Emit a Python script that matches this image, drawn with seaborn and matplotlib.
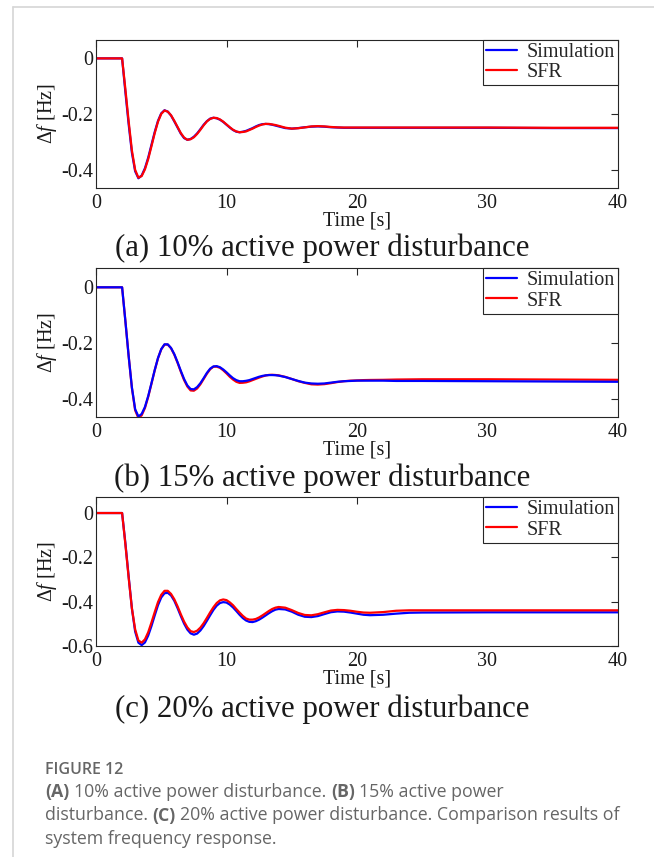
import matplotlib
matplotlib.use("Agg")
import matplotlib.pyplot as plt
import seaborn as sns
import numpy as np
import pandas as pd
from matplotlib.lines import Line2D

# time samples [s]
time_s = [0, 2.0,
          2.25, 2.5, 2.75, 3.0, 3.25, 3.5, 3.75, 4.0,
          4.25, 4.5, 4.75, 5.0, 5.25, 5.5, 5.75, 6.0,
          6.25, 6.5, 6.75, 7.0, 7.25, 7.5, 7.75, 8.0,
          8.25, 8.5, 8.75, 9.0, 9.25, 9.5, 9.75, 10.0,
          10.25, 10.5, 10.75, 11.0, 11.25, 11.5, 11.75, 12.0,
          12.25, 12.5, 12.75, 13.0, 13.25, 13.5, 13.75, 14.0,
          14.5, 15.0, 15.5, 16.0, 16.5, 17.0, 17.5, 18.0,
          18.5, 19.0, 19.5, 20.0, 20.5, 21.0,
          22, 23, 24, 25, 30, 35, 40]

# (a) 10 % disturbance
sim_a = [0, 0,
         -0.120, -0.235, -0.338, -0.405, -0.430, -0.420, -0.394, -0.356,
         -0.310, -0.264, -0.224, -0.197, -0.186, -0.191, -0.205, -0.226,
         -0.248, -0.270, -0.286, -0.292, -0.289, -0.281, -0.269, -0.254,
         -0.238, -0.225, -0.216, -0.213, -0.215, -0.220, -0.228, -0.238,
         -0.248, -0.257, -0.263, -0.265, -0.263, -0.260, -0.255, -0.250,
         -0.244, -0.239, -0.236, -0.235, -0.236, -0.238, -0.241, -0.244,
         -0.250, -0.252, -0.250, -0.247, -0.245, -0.244, -0.245, -0.247,
         -0.248, -0.249, -0.249, -0.249, -0.249, -0.249,
         -0.249, -0.249, -0.249, -0.249, -0.249, -0.250, -0.250]
sfr_a = [0, 0,
         -0.110, -0.225, -0.330, -0.400, -0.428, -0.422, -0.398, -0.361,
         -0.315, -0.268, -0.227, -0.199, -0.187, -0.191, -0.204, -0.224,
         -0.246, -0.268, -0.284, -0.292, -0.290, -0.283, -0.271, -0.256,
         -0.240, -0.226, -0.217, -0.213, -0.214, -0.219, -0.227, -0.237,
         -0.247, -0.256, -0.262, -0.265, -0.264, -0.262, -0.257, -0.252,
         -0.246, -0.241, -0.237, -0.235, -0.235, -0.237, -0.239, -0.242,
         -0.2485, -0.252, -0.2505, -0.2475, -0.244, -0.243, -0.244, -0.246,
         -0.2475, -0.248, -0.248, -0.248, -0.248, -0.248,
         -0.248, -0.248, -0.248, -0.248, -0.248, -0.249, -0.249]

# (b) 15 % disturbance
sim_b = [0, 0,
         -0.120, -0.245, -0.358, -0.436, -0.462, -0.453, -0.428, -0.389,
         -0.343, -0.296, -0.253, -0.221, -0.204, -0.204, -0.217, -0.239,
         -0.268, -0.299, -0.328, -0.351, -0.364, -0.365, -0.357, -0.343,
         -0.325, -0.306, -0.291, -0.283, -0.282, -0.286, -0.294, -0.304,
         -0.315, -0.325, -0.332, -0.336, -0.336, -0.3345, -0.332, -0.328,
         -0.324, -0.320, -0.317, -0.315, -0.314, -0.314, -0.3145, -0.316,
         -0.321, -0.328, -0.335, -0.341, -0.344, -0.345, -0.344, -0.341,
         -0.338, -0.336, -0.335, -0.334, -0.334, -0.334,
         -0.334, -0.335, -0.335, -0.335, -0.336, -0.337, -0.338]
sfr_b = [0, 0,
         -0.120, -0.245, -0.360, -0.440, -0.468, -0.458, -0.432, -0.392,
         -0.345, -0.297, -0.254, -0.222, -0.205, -0.205, -0.218, -0.241,
         -0.270, -0.302, -0.332, -0.355, -0.369, -0.370, -0.362, -0.347,
         -0.328, -0.309, -0.293, -0.284, -0.284, -0.288, -0.297, -0.308,
         -0.320, -0.330, -0.338, -0.342, -0.3415, -0.340, -0.3365, -0.332,
         -0.3275, -0.323, -0.319, -0.3155, -0.3135, -0.313, -0.3137, -0.315,
         -0.3205, -0.328, -0.336, -0.342, -0.347, -0.348, -0.3465, -0.343,
         -0.339, -0.336, -0.334, -0.333, -0.332, -0.3315,
         -0.331, -0.330, -0.3295, -0.329, -0.329, -0.330, -0.331]

# (c) 20 % disturbance
sim_c = [0, 0,
         -0.135, -0.285, -0.430, -0.535, -0.585, -0.596, -0.584, -0.553,
         -0.510, -0.462, -0.416, -0.381, -0.362, -0.360, -0.372, -0.396,
         -0.429, -0.465, -0.499, -0.526, -0.543, -0.549, -0.544, -0.530,
         -0.510, -0.486, -0.461, -0.437, -0.418, -0.406, -0.402, -0.404,
         -0.413, -0.426, -0.442, -0.459, -0.474, -0.485, -0.491, -0.492,
         -0.488, -0.481, -0.472, -0.462, -0.452, -0.443, -0.436, -0.433,
         -0.435, -0.445, -0.459, -0.468, -0.4695, -0.465, -0.456, -0.4475,
         -0.444, -0.445, -0.449, -0.454, -0.459, -0.461,
         -0.459, -0.454, -0.450, -0.449, -0.448, -0.448, -0.448]
sfr_c = [0, 0,
         -0.140, -0.290, -0.430, -0.525, -0.575, -0.585, -0.570, -0.538,
         -0.494, -0.447, -0.402, -0.369, -0.351, -0.351, -0.365, -0.389,
         -0.421, -0.457, -0.490, -0.516, -0.533, -0.537, -0.531, -0.517,
         -0.497, -0.473, -0.448, -0.425, -0.406, -0.394, -0.390, -0.393,
         -0.403, -0.416, -0.433, -0.449, -0.464, -0.476, -0.481, -0.481,
         -0.478, -0.471, -0.462, -0.452, -0.442, -0.433, -0.427, -0.424,
         -0.427, -0.438, -0.451, -0.460, -0.4615, -0.4565, -0.448, -0.440,
         -0.437, -0.438, -0.441, -0.4455, -0.449, -0.450,
         -0.447, -0.441, -0.439, -0.439, -0.439, -0.439, -0.439]

panel_titles = ["(a) 10% active power disturbance",
                "(b) 15% active power disturbance",
                "(c) 20% active power disturbance"]
sim_series = [sim_a, sim_b, sim_c]
sfr_series = [sfr_a, sfr_b, sfr_c]
on_top = ["SFR", "Simulation", "SFR"]
x_ticks = [0, 10, 20, 30, 40]
y_ticks = [[0, -0.2, -0.4], [0, -0.2, -0.4], [0, -0.2, -0.4, -0.6]]
y_limits = [(-0.466, 0.067), (-0.464, 0.068), (-0.6, 0.071)]

sns.set_style("white")
plt.rcParams["font.family"] = ["Liberation Serif", "DejaVu Serif"]
plt.rcParams["mathtext.fontset"] = "custom"
plt.rcParams["mathtext.rm"] = "Liberation Serif"
plt.rcParams["mathtext.it"] = "Liberation Serif:italic"
plt.rcParams["axes.unicode_minus"] = False

W, H = 654, 857
fig = plt.figure(figsize=(W / 100, H / 100), dpi=100)
fig.patch.set_facecolor("white")

# axes placement in pixels (top, bottom)
axes_px = [(39.7, 188.3), (268.3, 417.0), (497.3, 646.0)]
ax_left, ax_right = 96, 618
title_y = [248, 478, 709]
dark = "#262626"

for i, (top, bottom) in enumerate(axes_px):
    ax = fig.add_axes([ax_left / W, 1 - bottom / H,
                       (ax_right - ax_left) / W, (bottom - top) / H])
    df = pd.DataFrame({"t": time_s, "Simulation": sim_series[i], "SFR": sfr_series[i]})
    order = ["Simulation", "SFR"] if on_top[i] == "SFR" else ["SFR", "Simulation"]
    colors = {"Simulation": "blue", "SFR": "red"}
    for name in order:
        sns.lineplot(data=df, x="t", y=name, color=colors[name], label=name,
                     linewidth=1.6, estimator=None, ax=ax)

    ax.set_xlim(0, 40)
    ax.set_ylim(*y_limits[i])
    ax.set_xticks(x_ticks)
    ax.set_yticks(y_ticks[i])
    ax.set_xticklabels([str(v) for v in x_ticks])
    ax.set_yticklabels(["0" if v == 0 else f"{v:.1f}" for v in y_ticks[i]])
    ax.tick_params(direction="in", top=True, right=True, length=5, width=0.8,
                   color=dark, labelsize=14.5, labelcolor="#1a1a1a")
    ax.tick_params(axis="y", pad=2)
    ax.tick_params(axis="x", pad=4)
    for sp in ax.spines.values():
        sp.set_color(dark)
        sp.set_linewidth(0.8)
    ax.set_xlabel("Time [s]", fontsize=14.5, labelpad=-1, color="#1a1a1a")
    ax.set_ylabel(r"$\Delta f$ [Hz]", fontsize=14.5, color="#1a1a1a")
    ax.yaxis.set_label_coords((59 - ax_left) / (ax_right - ax_left), 0.5)

    handles, labels = ax.get_legend_handles_labels()
    idx = [labels.index("Simulation"), labels.index("SFR")]
    leg = ax.legend([handles[k] for k in idx], [labels[k] for k in idx],
                    loc="upper right", borderaxespad=0, fancybox=False,
                    framealpha=1, edgecolor=dark, fontsize=14.5,
                    handlelength=1.5, handletextpad=0.5, labelspacing=0.05,
                    borderpad=0.15)
    leg.get_frame().set_linewidth(0.8)

    fig.text(322 / W, 1 - title_y[i] / H, panel_titles[i], fontsize=22.2,
             ha="center", va="center", color="#1a1a1a")

# card border
border = "#d6d6d6"
fig.add_artist(Line2D([13 / W, 1], [1 - 7 / H, 1 - 7 / H], color=border, lw=1.2))
fig.add_artist(Line2D([13 / W, 13 / W], [0, 1 - 7 / H], color=border, lw=1.2))

# caption
cap_font = ["Open Sans", "DejaVu Sans"]
cap_color = "#666666"
renderer = fig.canvas.get_renderer()


def text_width(s, size, weight):
    t = fig.text(0, 0, s, fontsize=size, fontweight=weight, family=cap_font)
    w = t.get_window_extent(renderer).width
    t.remove()
    return w


def draw_runs(x_px, y_px, runs, size):
    space = text_width("a a", size, "normal") - text_width("aa", size, "normal")
    x = x_px
    for s, bold in runs:
        weight = "bold" if bold else "normal"
        core = s.strip(" ")
        lead = len(s) - len(s.lstrip(" "))
        trail = len(s) - len(s.rstrip(" "))
        x += lead * space
        fig.text(x / W, 1 - y_px / H, core, fontsize=size, fontweight=weight,
                 family=cap_font, color=cap_color, va="baseline", ha="left")
        x += text_width(core, size, weight) + trail * space


cap_x = 45
fig.text(cap_x / W, 1 - 774 / H, "FIGURE 12", fontsize=11.5, fontweight="semibold",
         family=cap_font, color="#666666", va="baseline")
caption_lines = [
    [("(A)", True), (" 10% active power disturbance. ", False), ("(B)", True),
     (" 15% active power", False)],
    [("disturbance. ", False), ("(C)", True),
     (" 20% active power disturbance. Comparison results of", False)],
    [("system frequency response.", False)],
]
for k, runs in enumerate(caption_lines):
    draw_runs(cap_x, 797 + 23.5 * k, runs, 12.8)

fig.savefig("out.png", dpi=100, facecolor="white")
